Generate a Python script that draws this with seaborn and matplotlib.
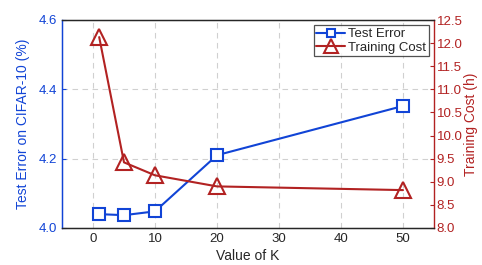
import seaborn as sns
import numpy as np
import matplotlib.pyplot as plt
import pandas as pd

k_values = [1, 5, 10, 20, 50]
test_error = [4.040, 4.037, 4.048, 4.210, 4.352]
train_cost = [12.13, 9.42, 9.14, 8.90, 8.82]

blue = '#1144d6'
red = '#b22222'

sns.set_style("white")
plt.rcParams['font.family'] = ['Liberation Sans', 'DejaVu Sans']

df = pd.DataFrame({'K': k_values, 'err': test_error, 'cost': train_cost})

fig = plt.figure(figsize=(4.82, 2.65), dpi=100)
ax = fig.add_axes([62/482, 1 - 228/265, (434-62)/482, (228-20)/265])
ax2 = ax.twinx()

sns.lineplot(data=df, x='K', y='err', ax=ax, color=blue, marker='s', markersize=8,
             markerfacecolor='white', markeredgecolor=blue, markeredgewidth=1.5,
             linewidth=1.5, label='Test Error', legend=False)
sns.lineplot(data=df, x='K', y='cost', ax=ax2, color=red, marker='^', markersize=12,
             markerfacecolor='none', markeredgecolor=red, markeredgewidth=1.5,
             linewidth=1.5, label='Training Cost', legend=False)

ax.set_xlim(-5, 55)
ax.set_ylim(4.0, 4.6)
ax.set_xticks([0, 10, 20, 30, 40, 50])
ax.set_yticks([4.0, 4.2, 4.4, 4.6])
ax.set_yticklabels(['4.0', '4.2', '4.4', '4.6'])
ax2.set_ylim(8.0, 12.5)
ax2.set_yticks(np.arange(8.0, 12.51, 0.5))
ax2.set_yticklabels(['%.1f' % v for v in np.arange(8.0, 12.51, 0.5)])

ax.grid(True, linestyle=(0, (5, 4)), color='#d0d0d0', linewidth=0.8)
ax.set_axisbelow(True)

ax.set_xlabel('Value of K', fontsize=10, color='#262626', labelpad=3)
ax.set_ylabel('Test Error on CIFAR-10 (%)', fontsize=10, color=blue, labelpad=6)
ax2.set_ylabel('Training Cost (h)', fontsize=10, color=red, labelpad=1)
ax.tick_params(axis='x', colors='#262626', labelsize=9.5, direction='in', length=3)
ax.tick_params(axis='y', colors=blue, labelsize=9.5, direction='in', length=3)
ax2.tick_params(axis='y', colors=red, labelsize=9.5, direction='in', length=3, pad=2)

for s in ['top', 'bottom']:
    ax2.spines[s].set_color('#262626')
ax2.spines['left'].set_color(blue)
ax2.spines['right'].set_color(red)
ax.spines['left'].set_color(blue)
ax.spines['right'].set_visible(False)
for s in ax2.spines.values():
    s.set_linewidth(1.0)

h1, l1 = ax.get_legend_handles_labels()
h2, l2 = ax2.get_legend_handles_labels()
leg = ax2.legend(h1 + h2, l1 + l2, loc='upper right', fontsize=9.5, frameon=True,
                 fancybox=False, edgecolor='#262626', borderpad=0.2, labelspacing=0.1,
                 handlelength=2.2, handletextpad=0.2, borderaxespad=0.4, markerscale=0.8)
leg.get_frame().set_linewidth(0.9)

fig.savefig('out.png', dpi=100)
